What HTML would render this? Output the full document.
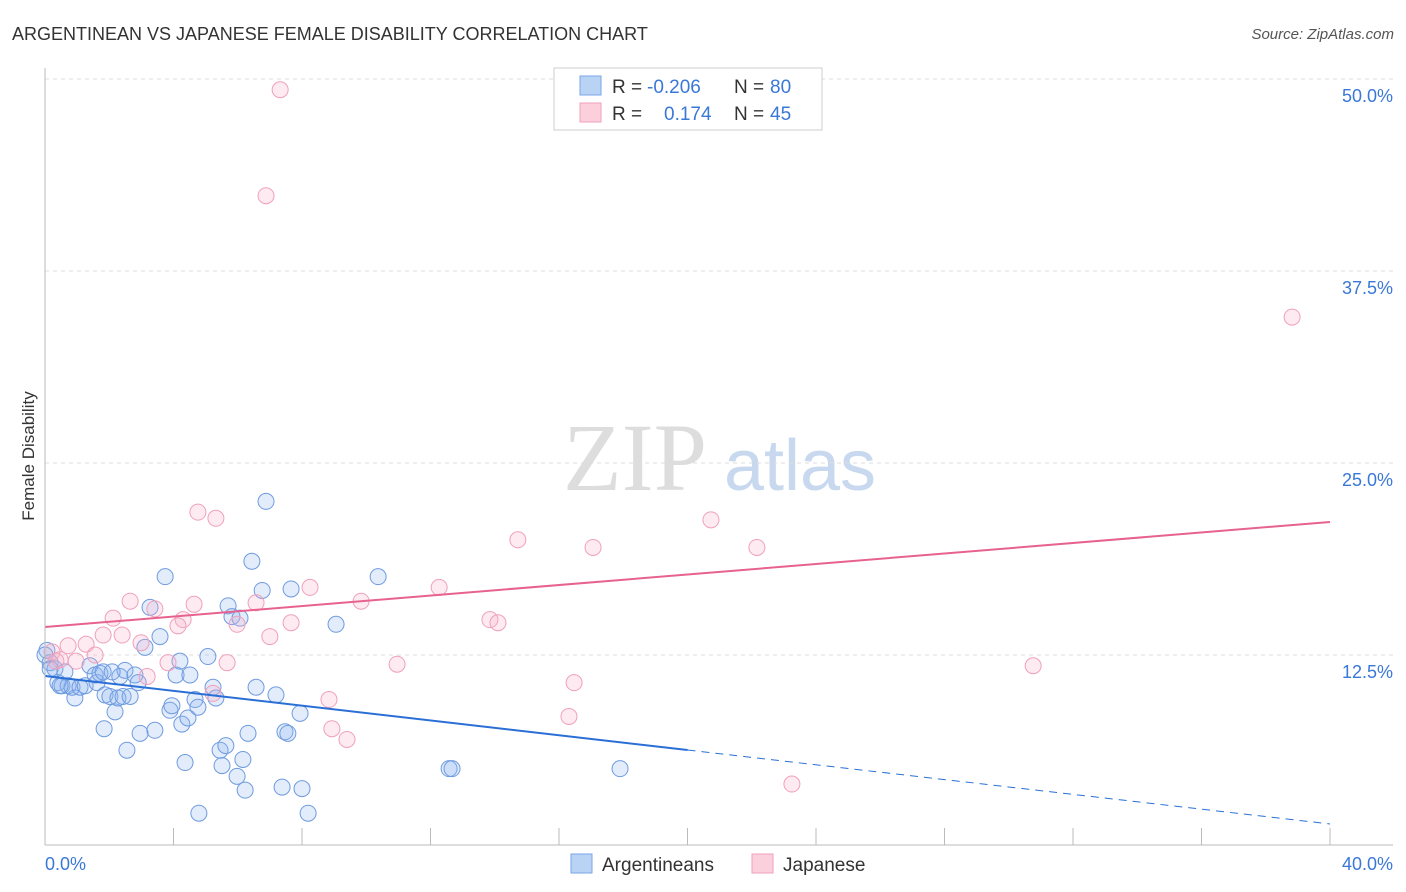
<!DOCTYPE html>
<html><head><meta charset="utf-8"><style>
body{margin:0;background:#fff;font-family:"Liberation Sans",sans-serif}
svg{display:block}
</style></head><body>
<svg id="chart" width="1406" height="892">
<text x="12" y="40" font-size="18" fill="#333">ARGENTINEAN VS JAPANESE FEMALE DISABILITY CORRELATION CHART</text>
<text x="1394" y="39" font-size="15" fill="#555" font-style="italic" text-anchor="end">Source: ZipAtlas.com</text>
<g><text x="635" y="490" font-size="96" fill="#ddd" font-family="Liberation Serif,serif" text-anchor="middle">ZIP</text><text x="800" y="490" font-size="72" fill="#c8d8ee" text-anchor="middle">atlas</text></g>
<g id="grid"></g><g id="pts"></g><g id="trend"></g>
<line x1="45" y1="68" x2="45" y2="845" stroke="#bbb"/>
<line x1="45" y1="845" x2="1393" y2="845" stroke="#bbb"/>
<text x="45" y="870" font-size="18" fill="#3a78d8">0.0%</text>
<text x="1393" y="870" font-size="18" fill="#3a78d8" text-anchor="end">40.0%</text>
<text x="34" y="456" font-size="17" fill="#333" transform="rotate(-90 34 456)" text-anchor="middle">Female Disability</text>
<g>
<rect x="554" y="68" width="268" height="62" fill="#fff" stroke="#ccc"/>
<rect x="580" y="76" width="21" height="19" fill="#b9d3f5" stroke="#7aa6e6"/>
<rect x="580" y="103" width="21" height="19" fill="#fbcfdc" stroke="#f0a0bb"/>
<text x="612" y="93" font-size="19" fill="#333">R = <tspan fill="#3a78d8" x="647">-0.206</tspan><tspan x="734">N = </tspan><tspan fill="#3a78d8" x="770">80</tspan></text>
<text x="612" y="120" font-size="19" fill="#333">R = <tspan fill="#3a78d8" x="664">0.174</tspan><tspan x="734">N = </tspan><tspan fill="#3a78d8" x="770">45</tspan></text>
</g>
<g>
<rect x="571" y="854" width="21" height="19" fill="#b9d3f5" stroke="#7aa6e6"/>
<text x="602" y="871" font-size="19" fill="#333">Argentineans</text>
<rect x="752" y="854" width="21" height="19" fill="#fbcfdc" stroke="#f0a0bb"/>
<text x="783" y="871" font-size="19" fill="#333">Japanese</text>
</g>
</svg>
<script>
const yTicks=[12.5,25,37.5,50];
const yTickLabels=["12.5%","25.0%","37.5%","50.0%"];
const xTicks=[0,4,8,12,16,20,24,28,32,36,40];
const blueX=[0.06,0.16,0.31,0.40,0.53,0.72,0.93,0.84,1.09,1.25,1.40,1.56,1.62,1.71,1.81,1.87,2.02,2.18,2.27,2.33,2.43,2.49,2.65,2.80,2.90,2.96,3.11,3.27,3.42,3.58,3.74,3.89,3.95,4.08,4.20,4.26,4.36,4.45,4.51,4.67,4.76,4.79,5.07,5.23,5.32,5.45,5.51,5.63,5.70,5.82,5.98,6.07,6.16,6.23,6.32,6.44,6.57,6.76,6.88,7.19,7.38,7.47,7.56,7.66,7.94,8.00,8.19,9.06,10.37,12.58,12.67,17.90,2.55,1.84,0.47,0.0,0.16,2.09,0.62];
const blueY=[12.8,12.0,11.6,10.7,10.5,10.5,9.7,10.4,10.4,10.5,11.8,11.2,10.7,11.3,11.4,9.9,9.8,8.8,9.7,11.1,9.8,11.5,9.8,11.2,10.7,7.4,13.0,15.6,7.6,13.7,17.6,8.9,9.2,11.2,12.1,8.0,5.5,8.4,11.2,9.6,9.1,2.2,12.4,10.4,9.7,6.3,5.3,6.6,15.7,15.0,4.6,14.9,5.7,3.7,7.4,18.6,10.4,16.7,22.5,9.9,3.9,7.5,7.4,16.8,8.7,3.8,2.2,14.5,17.6,5.1,5.1,5.1,6.3,7.7,10.5,12.5,11.6,11.4,11.4];
const pinkX=[7.32,6.88,38.82,4.76,5.32,20.73,14.72,17.06,22.16,8.25,12.27,2.65,3.42,4.64,6.57,9.84,2.12,4.30,4.14,5.98,7.66,13.85,14.10,1.81,2.40,2.99,7.00,0.72,1.28,1.56,0.47,0.97,3.83,5.67,10.96,30.76,3.18,16.47,5.23,8.84,16.31,8.93,9.40,23.25,0.22,0.34];
const pinkY=[49.3,42.4,34.5,21.8,21.4,21.3,20.0,19.5,19.5,16.9,16.9,16.0,15.5,15.8,15.9,16.0,14.9,14.8,14.4,14.5,14.6,14.8,14.6,13.8,13.8,13.3,13.7,13.1,13.2,12.5,12.2,12.1,12.0,12.0,11.9,11.8,11.1,10.7,10.0,9.6,8.5,7.7,7.0,4.1,12.7,12.1];
const blueTrend=[11.13,1.5];
const pinkTrend=[14.32,21.16];
const X=v=>45+v*32.125, Y=v=>847-v*15.36;
const NS="http://www.w3.org/2000/svg";
function mk(tag,attrs,parent){const e=document.createElementNS(NS,tag);for(const k in attrs)e.setAttribute(k,attrs[k]);parent.appendChild(e);return e;}
const grid=document.getElementById('grid');
yTicks.forEach((t,i)=>{
 const l=mk('line',{x1:45,x2:1393,y1:Y(t),y2:Y(t),stroke:'#ddd','stroke-dasharray':'4,4'},grid);
 
 
 const tx=mk('text',{x:1393,y:Y(t)+23,'font-size':18,fill:'#3a78d8','text-anchor':'end'},grid);
 tx.textContent=yTickLabels[i];
 
 
});
xTicks.forEach(t=>{
 const l=mk('line',{x1:X(t),x2:X(t),y1:828,y2:845,stroke:'#bbb'},grid);
 
 
});
const pts=document.getElementById('pts');
blueX.forEach((v,i)=>{
 const c=mk('circle',{cx:X(v),cy:Y(blueY[i]),r:8,fill:'rgba(140,180,240,0.25)',stroke:'#6f9be0','stroke-width':1},pts);
 
 
});
pinkX.forEach((v,i)=>{
 const c=mk('circle',{cx:X(v),cy:Y(pinkY[i]),r:8,fill:'rgba(248,175,200,0.25)',stroke:'#f0a0bb','stroke-width':1},pts);
 
 
});
const tr=document.getElementById('trend');
const bAt=x=>blueTrend[0]+(blueTrend[1]-blueTrend[0])*x/40;
let l1=mk('line',{x1:X(0),y1:Y(bAt(0)),x2:X(20),y2:Y(bAt(20)),stroke:'#2a6fd6','stroke-width':2},tr);


let l2=mk('line',{x1:X(20),y1:Y(bAt(20)),x2:X(40),y2:Y(bAt(40)),stroke:'#2a6fd6','stroke-width':1,'stroke-dasharray':'8,6'},tr);


let l3=mk('line',{x1:X(0),y1:Y(pinkTrend[0]),x2:X(40),y2:Y(pinkTrend[1]),stroke:'#e8628e','stroke-width':2},tr);


</script>
</body></html>
